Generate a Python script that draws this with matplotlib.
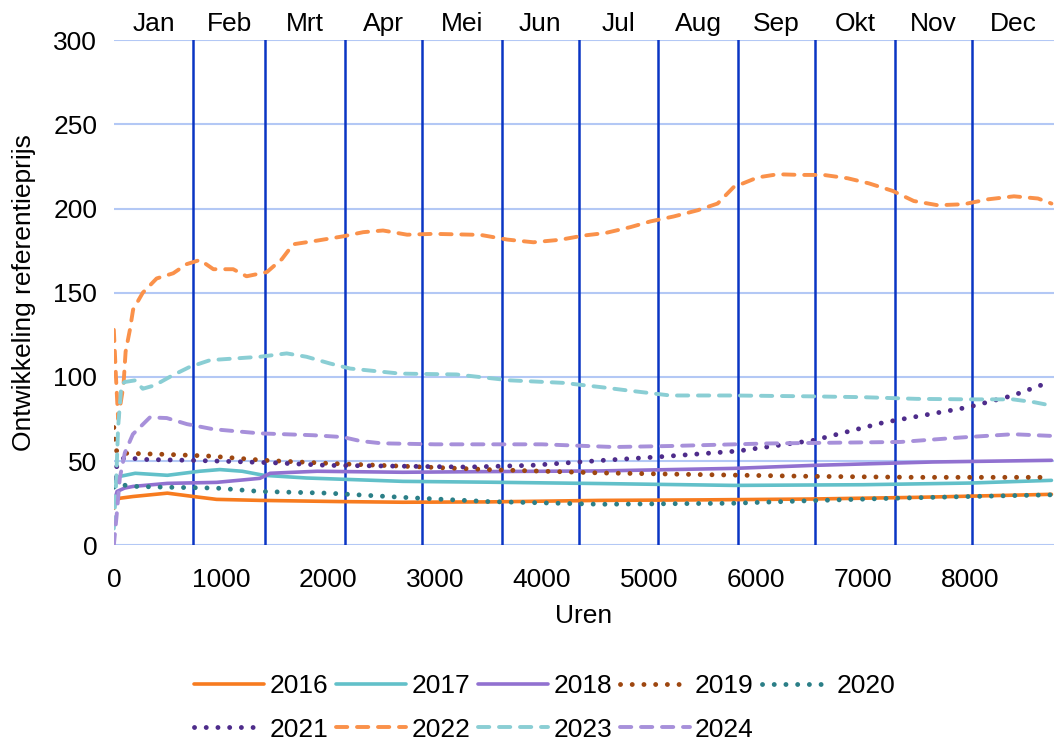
import matplotlib.pyplot as plt

plt.rcParams['font.family'] = ['Liberation Sans', 'DejaVu Sans']
plt.rcParams['font.size'] = 19

# month boundaries (hours) and month names
month_edges = [0, 744, 1416, 2160, 2880, 3624, 4344, 5088, 5832, 6552, 7296, 8016, 8784]
months = ['Jan', 'Feb', 'Mrt', 'Apr', 'Mei', 'Jun', 'Jul', 'Aug', 'Sep', 'Okt', 'Nov', 'Dec']

h2016 = [0, 20, 60, 180, 500, 744, 960, 1365, 2100, 2700, 3500, 4546, 5500, 6500, 7500, 8200, 8760]
v2016 = [22, 27, 28, 29, 31, 29, 27.3, 26.7, 26, 25.6, 25.8, 26.7, 27, 27.5, 28.5, 29.5, 30.3]

h2017 = [0, 20, 60, 200, 500, 800, 990, 1200, 1400, 1800, 2700, 3500, 4546, 5790, 7000, 8000, 8760]
v2017 = [38, 40, 41, 42.8, 41.6, 44, 45, 44, 41.6, 40, 38, 37.5, 36.7, 35.6, 36, 37, 38.6]

h2018 = [0, 30, 100, 180, 500, 960, 1365, 1420, 1460, 1900, 2700, 3500, 4546, 5790, 6540, 7650, 8760]
v2018 = [25, 32, 34, 35, 36.8, 37.4, 39.8, 41.5, 42.8, 44, 43.4, 43.8, 44.2, 45.7, 47.5, 49.5, 50.5]

h2019 = [0, 10, 30, 100, 500, 900, 1400, 2000, 2700, 3500, 4546, 5500, 6500, 7500, 8200, 8760]
v2019 = [70, 61, 55, 54.7, 54, 53, 50.5, 48.7, 47, 45, 43, 42, 41, 40.4, 40.4, 40.4]

h2020 = [0, 60, 200, 500, 960, 1365, 2000, 2700, 3500, 4546, 5790, 6500, 7300, 8000, 8760]
v2020 = [34.5, 36, 35, 34.5, 34, 32, 31, 28.5, 26, 24.4, 25, 26.5, 28, 29, 30]

h2021 = [0, 40, 100, 300, 700, 1000, 1500, 2000, 2700, 3300, 3900, 4575, 5080, 5830, 6540, 7195,
         7980, 8400, 8700, 8760]
v2021 = [40, 50, 52, 51, 50.5, 50, 49, 47.5, 47, 46.5, 47.5, 50.5, 52.5, 56, 62.4, 73,
         82, 89, 96, 97]

h2022 = [0, 20, 40, 90, 110, 150, 180, 270, 400, 555, 680, 805, 930, 1115, 1240, 1430, 1570,
         1675, 1900, 2140, 2330, 2515, 2740, 2985, 3425, 3675, 3920, 4172, 4390, 4593, 4827,
         5014, 5229, 5454, 5641, 5790, 6015, 6202, 6417, 6632, 6857, 7054, 7277, 7474, 7698,
         7942, 8166, 8410, 8634, 8760]
v2022 = [128, 100, 75, 95, 115, 128, 140, 150, 158.5, 161.6, 167, 169.5, 164, 164, 159.8, 162.3,
         170, 178.8, 181, 183.5, 186, 187, 184.5, 185, 184.4, 181.6, 180, 181.5, 184, 185.5, 189,
         192.4, 195.3, 199, 203, 212.7, 218.5, 220.4, 220, 220, 218, 215, 210.5, 204.5, 202,
         202.6, 205.5, 207.3, 206, 203]

h2023 = [0, 20, 40, 70, 100, 200, 270, 380, 550, 710, 900, 1365, 1615, 1800, 2020, 2208, 2675,
         3200, 3700, 4200, 4546, 4800, 5200, 5790, 6500, 7000, 7500, 8000, 8400, 8600, 8760]
v2023 = [10, 35, 70, 95, 97, 98, 93, 95, 101, 106, 110, 112, 114, 112, 108, 105, 102,
         101.5, 98, 96.5, 94, 92, 89, 89, 88.5, 88, 87, 86.7, 86.7, 85, 83]

h2024 = [0, 28, 56, 103, 178, 337, 495, 683, 926, 1365, 1862, 2140, 2300, 2500, 3000, 4000,
         4670, 5200, 6100, 7350, 7900, 8400, 8760]
v2024 = [0, 19, 40, 55, 66, 76, 75.6, 72, 69, 66.5, 65.4, 64.3, 62, 60.6, 60, 60,
         58.4, 59, 60.5, 61.4, 64, 66, 65]

dot = (0, (0.01, 2.4))
dash = (0, (2.9, 2.5))
series = [
    ('2016', h2016, v2016, '#F77B1F', '-', 2.6),
    ('2017', h2017, v2017, '#62C0C9', '-', 2.6),
    ('2018', h2018, v2018, '#9171D0', '-', 2.6),
    ('2019', h2019, v2019, '#9E4710', dot, 3.5),
    ('2020', h2020, v2020, '#2B7F87', dot, 3.5),
    ('2021', h2021, v2021, '#4E2C8B', dot, 3.5),
    ('2022', h2022, v2022, '#FA914A', dash, 2.8),
    ('2023', h2023, v2023, '#8ACED4', dash, 2.8),
    ('2024', h2024, v2024, '#A790DA', dash, 2.8),
]

fig = plt.figure(figsize=(10.54, 7.45), dpi=100)
ax = fig.add_axes([0.108, 0.268, 0.892, 0.678])

for y in range(0, 301, 50):
    ax.axhline(y, color='#B3C8F5', lw=1.5, zorder=0)
for e in month_edges[1:-1]:
    ax.axvline(e, color='#0A35C4', lw=1.8, zorder=1)

lines = {}
for name, h, v, c, ls, lw in series:
    lines[name], = ax.plot(h, v, color=c, lw=lw, linestyle=ls, label=name,
                           dash_capstyle='round', solid_capstyle='round', zorder=3)

ax.set_xlim(0, 8784)
ax.set_ylim(0, 300)
ax.set_xticks(range(0, 8001, 1000))
ax.set_yticks(range(0, 301, 50))
ax.tick_params(axis='x', length=0, pad=16)
ax.tick_params(axis='y', length=0, pad=12)
for s in ax.spines.values():
    s.set_visible(False)
ax.set_xlabel('Uren', labelpad=9)
ax.set_ylabel('Ontwikkeling referentieprijs', labelpad=12)

mids = [(month_edges[i] + month_edges[i + 1]) / 2 for i in range(12)]
top = ax.secondary_xaxis('top')
top.set_xticks(mids)
top.set_xticklabels(months)
top.tick_params(length=0, pad=3)
for s in top.spines.values():
    s.set_visible(False)

# legend filled row by row (2 rows x 5 columns)
order = ['2016', '2021', '2017', '2022', '2018', '2023', '2019', '2024', '2020']
fig.legend([lines[k] for k in order], order, loc='center', bbox_to_anchor=(0.517, 0.05),
           ncol=5, frameon=False, handlelength=2.65, handletextpad=0.2,
           columnspacing=0.3, labelspacing=0.75, borderpad=0)

fig.savefig('out.png', dpi=100)
